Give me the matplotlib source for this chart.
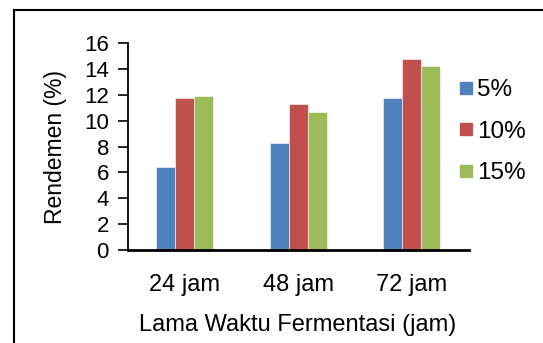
import matplotlib
matplotlib.use('Agg')
import matplotlib.pyplot as plt
from matplotlib.lines import Line2D
import numpy as np

plt.rcParams['font.family'] = ['Liberation Sans', 'DejaVu Sans']

categories = ['24 jam', '48 jam', '72 jam']
series_labels = ['5%', '10%', '15%']
values_5 = [6.4, 8.25, 11.8]
values_10 = [11.8, 11.3, 14.75]
values_15 = [11.9, 10.7, 14.25]
colors = ['#4f81bd', '#c0504d', '#9bbb59']
yticks = [0, 2, 4, 6, 8, 10, 12, 14, 16]

W, H = 543, 343
fig = plt.figure(figsize=(W / 100, H / 100), dpi=100)
ax = fig.add_axes([127.7 / W, 1 - 250 / H, 340.8 / W, 206.7 / H])

x = np.arange(len(categories))
width = 0.167
for i, (vals, lab) in enumerate(zip([values_5, values_10, values_15], series_labels)):
    ax.bar(x + (i - 1) * width, vals, width, color=colors[i], label=lab,
           edgecolor='white', linewidth=0.4, zorder=2)

ax.set_xlim(-0.5, 2.5)
ax.set_ylim(0, 16)
ax.set_yticks(yticks)
ax.set_xticks(x)
ax.set_xticklabels(categories, fontsize=17)
ax.tick_params(axis='y', labelsize=16, length=7.5, width=1.2, pad=6, direction='out')
ax.tick_params(axis='x', length=0, pad=17)
for s in ['top', 'right']:
    ax.spines[s].set_visible(False)
ax.spines['left'].set_linewidth(1.3)
ax.spines['bottom'].set_linewidth(2.0)
ax.set_ylabel('Rendemen (%)', fontsize=16.5, labelpad=12)
ax.set_xlabel('Lama Waktu Fermentasi (jam)', fontsize=17, labelpad=13)

handles = [Line2D([], [], marker='s', linestyle='none', markersize=9,
                  markerfacecolor=c, markeredgecolor=c) for c in colors]
fig.legend(handles, series_labels, loc='center left',
           bbox_to_anchor=(447 / W, 1 - 131.7 / H), frameon=False,
           fontsize=17.5, handlelength=0.75, handletextpad=0.1, labelspacing=0.8,
           borderaxespad=0)

# outer frame (only top and left visible in the reference)
fig.add_artist(Line2D([14 / W, 14 / W], [0, 1 - 10 / H], transform=fig.transFigure,
                      color='black', linewidth=1.5))
fig.add_artist(Line2D([14 / W, 1], [1 - 10 / H, 1 - 10 / H], transform=fig.transFigure,
                      color='black', linewidth=1.5))

fig.savefig('out.png', dpi=100)
